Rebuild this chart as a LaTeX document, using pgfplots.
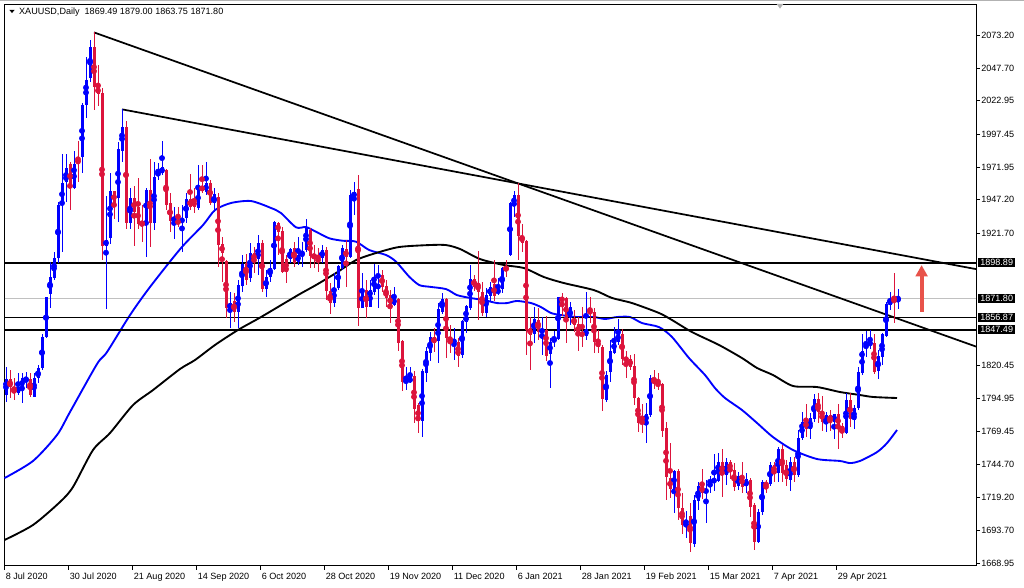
\documentclass[border=0pt]{standalone}
\usepackage{pgfplots}
\pgfplotsset{compat=1.18}
\usepackage{pgfplotstable}
\usetikzlibrary{arrows.meta}
\usepackage{fontspec}
\setmainfont{Liberation Sans}
\definecolor{upc}{HTML}{0000FF}
\definecolor{dnc}{HTML}{DC143C}
\definecolor{arr}{HTML}{E8534A}
\definecolor{cur}{HTML}{C0C0C0}

\pgfplotstableread{
i o h l c
0 1797.6 1819.3 1792.5 1809.6
3 1799.4 1814.2 1797.6 1804.0
4 1803.2 1814.2 1791.2 1810.3
5 1809.0 1815.5 1802.7 1810.3
7 1795.8 1814.2 1795.8 1810.9
8 1810.3 1820.6 1806.5 1818.0
9 1818.0 1844.0 1816.7 1841.7
10 1841.7 1872.4 1841.0 1872.4
11 1874.7 1899.7 1864.5 1887.7
12 1886.9 1907.3 1885.6 1902.2
13 1902.2 1945.6 1898.4 1943.1
14 1943.1 1981.8 1907.3 1959.6
15 1960.9 1981.8 1945.6 1971.1
17 1955.8 1984.4 1955.0 1974.2
19 1980.1 2020.9 1967.3 2019.6
20 2019.6 2056.1 2009.9 2038.7
21 2040.5 2069.4 2037.5 2063.8
25 1911.9 1949.9 1863.2 1916.2
26 1918.0 1967.3 1913.4 1953.8
28 1948.2 1991.5 1929.8 1985.9
29 1984.4 2016.3 1976.2 2003.0
31 1929.3 1955.8 1924.7 1948.2
35 1930.8 1955.8 1902.9 1954.5
37 1929.5 1976.0 1923.9 1964.7
38 1965.5 1975.0 1962.2 1968.6
39 1967.3 1992.0 1966.0 1971.9
42 1931.1 1941.8 1916.8 1933.3
44 1930.3 1943.0 1907.3 1932.3
45 1932.8 1952.0 1929.0 1947.4
48 1940.5 1973.7 1939.2 1956.6
50 1953.3 1976.0 1950.7 1959.6
52 1944.3 1955.8 1937.9 1951.2
56 1863.9 1876.7 1848.6 1867.8
58 1861.4 1885.6 1848.6 1881.8
59 1881.0 1904.8 1876.7 1897.6
61 1886.9 1913.7 1884.4 1906.0
63 1901.5 1920.1 1889.5 1913.7
65 1878.5 1893.3 1872.9 1888.2
66 1888.2 1900.9 1884.4 1894.6
67 1893.8 1930.8 1893.3 1930.3
71 1901.7 1909.9 1898.4 1909.1
73 1899.7 1918.8 1897.1 1904.8
74 1904.3 1915.0 1895.8 1907.8
75 1908.6 1932.1 1907.3 1925.2
79 1902.2 1912.4 1898.4 1908.6
82 1868.3 1890.7 1865.2 1879.3
83 1879.3 1897.1 1878.0 1896.3
84 1894.6 1912.4 1893.3 1909.9
86 1903.5 1954.5 1902.2 1950.7
87 1948.7 1960.4 1935.4 1953.3
89 1864.4 1890.7 1863.9 1878.0
91 1865.2 1885.6 1865.2 1878.0
92 1876.7 1897.9 1874.1 1888.2
93 1888.2 1897.1 1864.4 1889.4
97 1866.5 1880.0 1865.7 1872.1
100 1807.3 1819.3 1801.4 1809.1
101 1807.3 1819.3 1806.5 1811.1
104 1777.7 1817.2 1765.7 1816.0
105 1814.7 1834.6 1807.8 1831.3
106 1830.0 1846.1 1823.9 1842.2
108 1839.2 1867.8 1822.3 1863.2
109 1861.4 1875.5 1859.6 1870.8
112 1837.1 1848.6 1824.4 1840.2
114 1828.2 1855.0 1825.7 1854.2
115 1853.7 1866.5 1845.3 1866.0
116 1863.9 1897.1 1862.7 1886.4
120 1860.6 1879.8 1857.5 1874.1
121 1873.4 1884.3 1869.8 1880.5
123 1875.4 1886.9 1874.1 1878.7
124 1878.5 1895.3 1875.9 1894.6
126 1904.8 1945.1 1904.0 1944.3
127 1942.3 1953.8 1934.1 1950.7
132 1844.3 1865.2 1837.1 1855.8
134 1845.6 1857.5 1828.2 1847.8
136 1828.9 1841.5 1802.7 1838.4
137 1838.4 1846.6 1834.6 1841.0
138 1840.5 1872.9 1839.7 1872.9
141 1856.3 1869.0 1851.2 1865.2
145 1842.8 1876.7 1839.7 1847.8
150 1793.8 1816.2 1792.5 1812.9
151 1815.4 1839.7 1807.8 1831.3
152 1830.0 1849.4 1829.0 1839.7
153 1838.4 1855.5 1835.9 1844.8
160 1777.2 1791.7 1761.1 1783.0
161 1782.3 1812.9 1781.0 1810.9
167 1725.4 1740.2 1707.5 1739.4
170 1698.6 1708.8 1687.9 1701.9
172 1683.5 1721.0 1681.0 1717.2
173 1716.7 1731.2 1709.5 1727.9
175 1722.8 1732.5 1699.8 1725.4
176 1729.9 1735.6 1722.3 1732.5
177 1731.7 1752.2 1724.3 1732.5
178 1731.7 1752.9 1731.2 1746.5
180 1736.3 1749.1 1728.7 1746.5
183 1727.9 1738.9 1724.9 1735.6
185 1727.9 1737.6 1722.3 1733.0
188 1685.3 1710.0 1684.0 1708.3
189 1708.3 1732.5 1705.7 1731.2
191 1729.5 1746.5 1727.9 1744.0
193 1738.1 1758.0 1731.2 1756.2
196 1732.5 1750.4 1724.3 1746.5
198 1736.3 1770.8 1734.5 1764.9
199 1764.4 1784.3 1763.1 1776.7
201 1771.3 1783.6 1763.9 1780.2
202 1779.0 1798.4 1777.2 1794.3
205 1776.4 1784.8 1769.5 1782.3
207 1777.2 1783.0 1763.6 1782.8
210 1768.7 1799.4 1767.7 1793.8
212 1778.4 1789.9 1771.3 1787.4
213 1787.4 1819.3 1786.1 1815.4
214 1814.7 1844.3 1812.9 1831.3
215 1833.3 1846.8 1826.9 1836.6
216 1835.9 1847.4 1832.5 1838.4
218 1816.0 1832.0 1809.6 1827.4
219 1826.4 1844.8 1820.5 1844.3
220 1842.8 1869.0 1842.2 1867.0
221 1866.5 1876.7 1862.7 1870.8
223 1869.49 1879.00 1863.75 1871.80
}\upbars

\pgfplotstableread{
i o h l c
1 1809.6 1816.7 1795.0 1804.0
2 1802.7 1810.3 1793.9 1798.9
6 1809.6 1814.2 1796.3 1797.6
16 1974.2 1976.2 1939.2 1956.3
18 1979.5 1992.0 1960.9 1976.7
22 2063.8 2075.2 2015.8 2033.6
23 2033.6 2050.2 2018.8 2027.8
24 2028.5 2032.4 1900.9 1911.9
27 1953.8 1954.0 1932.3 1944.3
30 2003.0 2007.4 1924.7 1929.3
32 1948.2 1957.9 1911.9 1938.0
33 1941.3 1963.5 1924.4 1928.5
34 1929.0 1943.1 1915.0 1928.2
36 1954.5 1978.0 1910.6 1929.5
40 1969.8 1971.0 1939.2 1943.0
41 1944.3 1952.0 1922.6 1930.8
43 1931.6 1941.8 1926.5 1928.5
46 1947.4 1966.8 1939.2 1941.8
47 1946.4 1955.8 1936.7 1941.8
49 1957.6 1973.7 1952.0 1954.0
51 1960.1 1962.2 1943.0 1944.8
53 1948.9 1952.0 1895.8 1912.4
54 1913.2 1918.8 1884.4 1906.0
55 1900.2 1900.9 1856.3 1863.9
57 1869.5 1875.9 1853.2 1861.4
60 1898.4 1905.3 1881.8 1885.6
62 1906.0 1911.2 1890.7 1900.9
64 1913.7 1916.3 1876.7 1878.5
68 1929.0 1930.3 1904.8 1922.6
69 1923.1 1926.5 1890.7 1891.5
70 1901.7 1904.8 1883.1 1892.0
72 1909.9 1915.0 1895.8 1898.4
76 1923.9 1925.2 1894.6 1904.0
77 1904.8 1912.4 1895.1 1903.0
78 1903.5 1909.9 1892.0 1902.2
80 1908.6 1911.1 1870.3 1877.5
81 1877.5 1883.1 1859.6 1868.3
85 1909.1 1916.3 1880.5 1903.0
88 1955.3 1966.0 1850.7 1864.0
90 1878.0 1885.6 1856.3 1865.2
94 1889.4 1893.3 1876.7 1880.5
95 1881.0 1885.6 1864.7 1872.1
96 1873.9 1878.0 1853.0 1866.0
98 1870.8 1871.6 1831.3 1837.6
99 1839.2 1839.7 1800.9 1807.8
102 1812.1 1816.0 1776.4 1787.1
103 1789.7 1791.2 1768.2 1777.7
107 1841.7 1848.6 1830.8 1837.6
110 1870.8 1871.6 1825.7 1841.0
111 1840.2 1851.2 1829.5 1837.1
113 1837.9 1841.0 1819.3 1827.7
117 1886.4 1889.4 1877.5 1880.5
118 1883.1 1907.8 1855.0 1876.7
119 1876.7 1884.3 1858.1 1860.6
122 1882.3 1900.9 1869.8 1873.4
125 1895.1 1900.9 1888.2 1893.3
128 1950.7 1959.6 1900.9 1919.6
129 1919.6 1928.5 1907.3 1914.2
130 1915.5 1916.3 1828.2 1847.3
131 1849.1 1857.5 1816.7 1843.5
133 1855.0 1863.9 1839.7 1845.6
135 1847.3 1858.3 1823.9 1827.4
139 1872.1 1875.9 1858.1 1869.5
140 1871.6 1872.9 1837.6 1854.5
142 1856.8 1862.7 1846.1 1851.2
143 1851.9 1857.5 1831.5 1844.3
144 1845.3 1865.2 1834.6 1843.0
146 1862.7 1872.9 1852.4 1860.1
147 1861.4 1863.9 1830.0 1838.4
148 1838.4 1847.4 1830.0 1834.6
149 1834.6 1835.9 1785.6 1794.3
154 1844.3 1847.9 1820.6 1825.2
155 1826.9 1831.5 1810.9 1823.1
156 1825.2 1828.2 1816.7 1819.3
157 1819.8 1829.0 1789.9 1795.0
158 1795.0 1796.3 1769.5 1776.4
159 1777.2 1790.7 1768.7 1776.4
162 1810.4 1816.7 1801.9 1806.0
163 1806.5 1814.2 1801.4 1805.2
164 1806.0 1806.5 1765.7 1770.3
165 1772.1 1777.2 1717.2 1735.1
166 1733.8 1760.6 1718.5 1725.4
168 1739.4 1740.7 1701.9 1711.3
169 1711.3 1722.3 1691.2 1698.1
171 1704.9 1714.6 1677.6 1684.0
174 1727.9 1740.9 1717.7 1722.8
179 1746.5 1756.2 1719.7 1736.3
181 1746.5 1747.8 1733.0 1739.7
182 1740.2 1745.3 1724.3 1727.4
184 1735.6 1746.5 1722.3 1727.4
186 1732.5 1733.8 1704.4 1712.1
187 1713.4 1714.6 1678.9 1685.3
190 1729.5 1732.5 1722.3 1728.7
192 1744.0 1746.5 1731.2 1738.1
194 1756.2 1759.3 1731.2 1737.6
195 1744.0 1747.8 1727.9 1733.0
197 1746.5 1749.9 1731.2 1736.3
200 1778.4 1790.7 1765.7 1771.3
203 1794.3 1799.4 1775.9 1784.8
204 1784.8 1796.8 1770.3 1777.2
206 1782.3 1786.1 1770.3 1777.2
208 1783.0 1790.7 1756.2 1772.6
209 1774.1 1775.9 1764.4 1769.5
211 1793.8 1799.4 1773.3 1779.0
217 1837.1 1844.3 1813.7 1815.4
222 1870.3 1890.7 1852.4 1869.8
}\dnbars

\pgfplotstableread{
i p
-0.375 1734.0
6.75 1747.1
12.75 1767.0
16 1784.6
22.75 1821.3
25.25 1830.5
31 1858.8
36 1880.3
43.75 1910.1
49.25 1927.7
52.25 1939.2
56.25 1944.6
61.25 1946.1
66.25 1940.8
68.75 1936.9
72.5 1926.0
75 1926.2
77.5 1922.6
80.8 1917.6
84.2 1915.7
87.5 1915.0
90.8 1908.6
95 1904.8
97.5 1899.7
100.8 1888.2
103.3 1881.8
105.8 1880.5
110 1878.7
112.75 1874.1
116.25 1871.8
119.5 1870.3
122.75 1868.0
125.25 1868.0
127.75 1869.6
131.25 1868.0
133.75 1864.9
136.25 1860.4
138.75 1858.8
142.75 1857.3
147 1857.3
149.75 1855.8
152.75 1857.3
156 1857.3
159 1852.7
163.25 1849.6
166.5 1842.0
170.75 1825.9
174.75 1812.9
177.25 1802.9
179.75 1795.3
184 1786.1
187.75 1776.2
191.75 1765.4
196.75 1755.5
202.75 1748.6
208.5 1747.1
211 1745.5
213.5 1747.1
217.75 1753.9
220.25 1760.8
222.75 1770.8
}\mablue

\pgfplotstableread{
i p
-0.375 1686.6
6.75 1698.1
13.5 1715.7
16.75 1727.2
21.75 1755.5
26 1768.5
31.75 1789.9
36.75 1801.4
43.5 1817.5
47.25 1824.4
52.25 1835.9
58 1847.4
63.75 1857.3
73 1874.1
77.5 1881.8
82.5 1891.0
87.5 1900.9
92.5 1906.3
98.25 1910.9
105.75 1912.4
110 1912.4
113.5 1909.4
118.5 1901.7
124.5 1897.1
129.5 1894.8
134.5 1887.9
139.5 1883.3
147 1877.9
151.5 1871.9
156.5 1868.0
163.25 1860.4
166.5 1855.0
171.5 1845.8
178.25 1835.9
184 1825.9
187.75 1818.3
191.75 1812.9
196.75 1804.5
202.75 1803.7
208.5 1799.9
213.5 1797.6
216.75 1796.1
222.75 1795.3
}\mablack

\pgfplotsset{
  wick/.style={only marks, mark=none, forget plot,
    error bars/.cd, y dir=both, y explicit, error mark=none,
    error bar style={color=#1, line width=0.75pt, solid}},
  body/.style={only marks, mark=none, forget plot,
    error bars/.cd, y dir=both, y explicit, error mark=none,
    error bar style={color=#1, line width=2.25pt, solid}},
}

\begin{document}
\begin{tikzpicture}[font=\fontsize{6.8}{8}\selectfont]
\useasboundingbox (0,0) rectangle (768pt,441pt);
\draw[gray!60, line width=0.75pt] (0,440.6pt) -- (768pt,440.6pt);
\begin{axis}[
  at={(3.375pt,16.5pt)}, anchor=south west,
  scale only axis, width=728.625pt, height=420.75pt,
  xmin=-0.375, xmax=242.5, ymin=1666.7, ymax=2096.2,
  clip=false,
  axis line style={black, line width=0.75pt},
  xtick={-0.375,15.625,...,207.625},
  xticklabels={8 Jul 2020,30 Jul 2020,21 Aug 2020,14 Sep 2020,6 Oct 2020,28 Oct 2020,19 Nov 2020,11 Dec 2020,6 Jan 2021,28 Jan 2021,19 Feb 2021,15 Mar 2021,7 Apr 2021,29 Apr 2021},
  xtick pos=bottom, ytick pos=right,
  tick align=outside,
  major tick length=3pt,
  tick style={black, line width=0.6pt},
  xticklabel style={anchor=north west, inner sep=0.8pt, yshift=-1.2pt},
  ytick={2073.20,2047.70,2022.95,1997.45,1971.95,1947.20,1921.70,1820.45,1794.95,1769.45,1744.70,1719.20,1693.70,1668.95},
  yticklabels={2073.20,2047.70,2022.95,1997.45,1971.95,1947.20,1921.70,1820.45,1794.95,1769.45,1744.70,1719.20,1693.70,1668.95},
  yticklabel pos=right,
  yticklabel style={anchor=west, inner sep=0.8pt},
]
% current price line
\addplot[cur, line width=0.75pt, forget plot] coordinates {(-0.375,1871.80) (242.5,1871.80)};
% moving averages
\addplot[upc, line width=1.4pt, smooth, tension=0.45, forget plot] table[x=i, y=p] {\mablue};
\addplot[black, line width=1.4pt, smooth, tension=0.45, forget plot] table[x=i, y=p] {\mablack};
% horizontal levels
\addplot[black, line width=1.3pt, forget plot] coordinates {(-0.375,1898.89) (242.5,1898.89)};
\addplot[black, line width=1.3pt, forget plot] coordinates {(-0.375,1856.87) (242.5,1856.87)};
\addplot[black, line width=1.3pt, forget plot] coordinates {(-0.375,1847.49) (242.5,1847.49)};
% trend lines
\addplot[black, line width=1.3pt, forget plot] coordinates {(22,2075.2) (242.5,1834.7)};
\addplot[black, line width=1.3pt, forget plot] coordinates {(29,2016.3) (242.5,1894.0)};
% candles
\addplot[upc, wick=upc] table[x=i, y expr={(\thisrow{h}+\thisrow{l})/2}, y error expr={(\thisrow{h}-\thisrow{l})/2}] {\upbars};
\addplot[upc, body=upc] table[x=i, y expr={(\thisrow{o}+\thisrow{c})/2}, y error expr={max(abs(\thisrow{c}-\thisrow{o})/2,0.4)}] {\upbars};
\addplot[dnc, wick=dnc] table[x=i, y expr={(\thisrow{h}+\thisrow{l})/2}, y error expr={(\thisrow{h}-\thisrow{l})/2}] {\dnbars};
\addplot[dnc, body=dnc] table[x=i, y expr={(\thisrow{o}+\thisrow{c})/2}, y error expr={max(abs(\thisrow{c}-\thisrow{o})/2,0.4)}] {\dnbars};
% arrow
\draw[arr, line width=3pt, -{Triangle[width=8.8pt,length=8.5pt]}] (axis cs:228.9,1861.4) -- (axis cs:228.9,1897.1);
% price boxes
\pgfplotsinvokeforeach{1898.89,1871.80,1856.87,1847.49}{
  \node[fill=black, text=white, anchor=west, inner xsep=1.8pt, inner ysep=1.0pt, xshift=1.2pt] at (axis cs:242.5,#1) {#1};
}
\end{axis}
% title
\fill[black] (7.1pt,433.5pt) -- (10.9pt,433.5pt) -- (9pt,431.2pt) -- cycle;
\node[anchor=west, inner sep=0pt] at (14.2pt,432pt) {XAUUSD,Daily\ \ 1869.49 1879.00 1863.75 1871.80};
% chart shift marker
\fill[gray!60] (582.5pt,438pt) -- (587.5pt,438pt) -- (585pt,434.5pt) -- cycle;
\end{tikzpicture}
\end{document}
